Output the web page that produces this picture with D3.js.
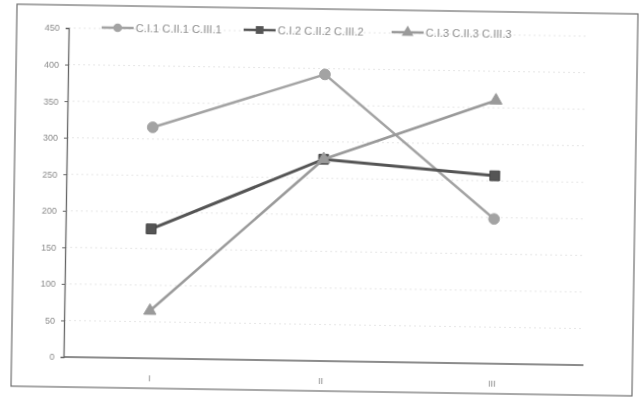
<!DOCTYPE html>
<html><head><meta charset="utf-8">
<script src="https://cdn.jsdelivr.net/npm/d3@7"></script>
<style>html,body{margin:0;padding:0;background:#fff;overflow:hidden;}svg{display:block;}</style>
</head><body>
<svg id="chart" width="642" height="400"></svg>
<script>
const categories = ["I", "II", "III"];
const seriesNames = ["C.I.1 C.II.1 C.III.1", "C.I.2 C.II.2 C.III.2", "C.I.3 C.II.3 C.III.3"];
const series1 = [316, 392, 198];
const series2 = [177, 276, 257];
const series3 = [65, 276, 360];
const yTicks = [0, 50, 100, 150, 200, 250, 300, 350, 400, 450];

const allSeries = [series1, series2, series3];
const colors = ["#a3a3a3", "#555555", "#9a9a9a"];
const shapes = [d3.symbolCircle, d3.symbolSquare, d3.symbolTriangle];

const svg = d3.select("#chart");
const defs = svg.append("defs");
defs.append("filter").attr("id", "soft").append("feGaussianBlur").attr("stdDeviation", 0.45);

const g = svg.append("g").attr("transform", "rotate(0.9 321 200)").attr("filter", "url(#soft)");

// frame
g.append("rect").attr("x", 14).attr("y", 9).attr("width", 621).attr("height", 382)
  .attr("fill", "none").attr("stroke", "#6e6e6e").attr("stroke-width", 1.2);

const m = {left: 66, right: 580, top: 32, bottom: 361, axisEnd: 586};
const x = d3.scalePoint().domain(categories).range([m.left, m.right]).padding(0.5);
const y = d3.scaleLinear().domain([0, 450]).range([m.bottom, m.top]);

// faint gridlines
g.append("g").selectAll("line").data(yTicks.filter(d => d > 0)).join("line")
  .attr("x1", m.left).attr("x2", m.axisEnd)
  .attr("y1", d => y(d)).attr("y2", d => y(d))
  .attr("stroke", "#e6e6e6").attr("stroke-width", 1).attr("stroke-dasharray", "2,3");

// y axis
const yAxis = g.append("g").attr("transform", `translate(${m.left},0)`)
  .call(d3.axisLeft(y).tickValues(yTicks).tickSize(3).tickPadding(6));
yAxis.select(".domain").attr("stroke", "#666").attr("stroke-width", 1.3);
yAxis.selectAll(".tick line").attr("stroke", "#666");
yAxis.selectAll("text").attr("fill", "#8a8a8a").style("font-family", "Liberation Sans, Arial, sans-serif").style("font-size", "9px");

// x axis
const xAxis = g.append("g").attr("transform", `translate(0,${m.bottom})`)
  .call(d3.axisBottom(x).tickSize(0).tickPadding(17));
xAxis.select(".domain").attr("stroke", "#666").attr("stroke-width", 1.3).attr("d", `M${m.left},0H${m.axisEnd}`);
xAxis.selectAll("text").attr("fill", "#8a8a8a").style("font-family", "Liberation Sans, Arial, sans-serif").style("font-size", "9px");

// lines
const line = d3.line().x((d, i) => x(categories[i])).y(d => y(d));
allSeries.forEach((s, k) => {
  g.append("path").datum(s).attr("d", line).attr("fill", "none")
    .attr("stroke", colors[k]).attr("stroke-width", k === 1 ? 3 : 2.5);
  g.append("g").selectAll("path").data(s).join("path")
    .attr("transform", (d, i) => `translate(${x(categories[i])},${y(d)})`)
    .attr("d", d3.symbol().type(shapes[k]).size(k === 1 ? 95 : (k === 2 ? 65 : 90)))
    .attr("fill", colors[k]).attr("stroke", k === 1 ? "#444" : colors[k]);
});

// legend
const legendX = [99, 241, 389];
const legend = g.append("g");
seriesNames.forEach((name, k) => {
  const lg = legend.append("g").attr("transform", `translate(${legendX[k]},31)`);
  lg.append("line").attr("x1", 0).attr("x2", 32).attr("y1", 0).attr("y2", 0)
    .attr("stroke", colors[k]).attr("stroke-width", 2.5);
  lg.append("path").attr("transform", "translate(16,0)")
    .attr("d", d3.symbol().type(shapes[k]).size(60)).attr("fill", colors[k]);
  lg.append("text").attr("x", 34).attr("y", 4).text(name)
    .attr("fill", "#8c8c8c").attr("textLength", 86).attr("lengthAdjust", "spacingAndGlyphs")
    .style("font-family", "Liberation Sans, Arial, sans-serif").style("font-size", "11px");
});
</script>
</body></html>
